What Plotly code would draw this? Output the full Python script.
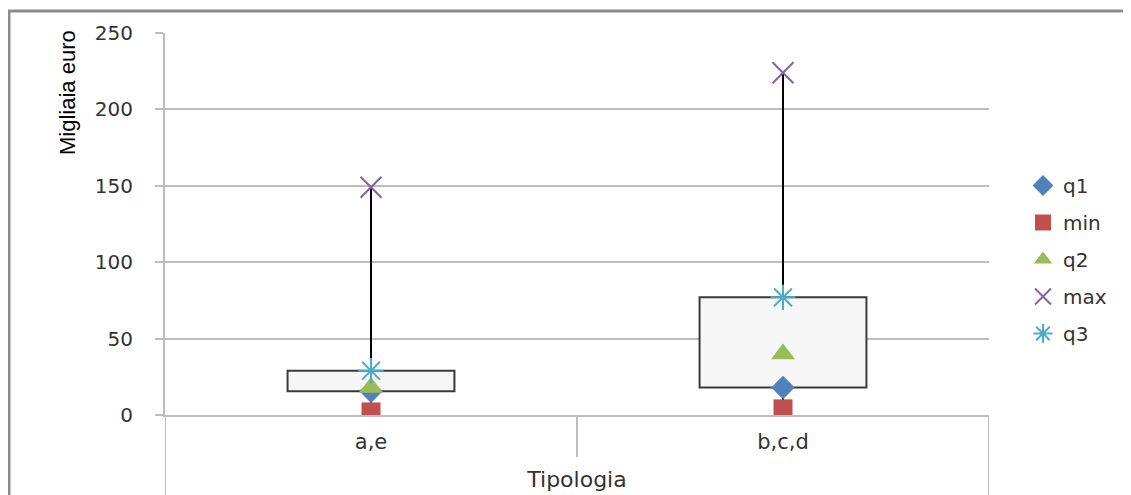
import plotly.graph_objects as go

categories = ["a,e", "b,c,d"]
q_min = [2, 4]
q1 = [15.5, 18]
q2 = [18, 40]
q3 = [29, 77]
q_max = [149, 224]

y_ticks = [0, 50, 100, 150, 200, 250]

# page is rendered with an 8px body margin -> work in page pixels, shift by 8
OFF = 8
W, H = 1131, 495
ML, MT = 165 - OFF, 33 - OFF
PR, PB = 989 - OFF, 415 - OFF  # plot right / bottom in figure pixels
MR, MB = W - PR, H - PB
PW = PR - ML
PH = PB - MT


def px_x(p):
    return (p - OFF - ML) / PW


def px_y(p):
    return (PB - (p - OFF)) / PH


fig = go.Figure()

# Box (q1 -> q3)
fig.add_trace(go.Bar(
    x=categories,
    base=q1,
    y=[b - a for a, b in zip(q1, q3)],
    width=0.405,
    marker=dict(color="#f7f7f7", line=dict(color="#3a3a3a", width=2)),
    showlegend=False,
    hoverinfo="skip",
))

# Whiskers
wx, wy = [], []
for c, mn, a, b, mx in zip(categories, q_min, q1, q3, q_max):
    wx += [c, c, None, c, c, None]
    wy += [mn, a, None, b, mx, None]
fig.add_trace(go.Scatter(
    x=wx, y=wy, mode="lines",
    line=dict(color="black", width=2),
    showlegend=False, hoverinfo="skip",
))

series = [
    ("q1", q1, dict(symbol="diamond", size=18, color="#4F81BD")),
    ("min", q_min, dict(symbol="square", size=19, color="#C0504D")),
    ("q2", q2, dict(symbol="triangle-up", size=21, color="#9BBB59")),
    ("max", q_max, dict(symbol="x-thin-open", size=21, color="#8064A2",
                        line=dict(width=2, color="#8064A2"))),
    ("q3", q3, dict(symbol="asterisk-open", size=21, color="#4BACC6",
                    line=dict(width=2, color="#4BACC6"))),
]
for name, vals, mk in series:
    fig.add_trace(go.Scatter(
        x=categories, y=vals, mode="markers", name=name,
        marker=mk, legendgroup=name,
    ))

grid_col = "#bdbdbd"
shapes = []
shapes.append(dict(type="line", xref="x", yref="paper", x0=0.5, x1=0.5,
                   y0=0, y1=px_y(457), line=dict(color=grid_col, width=2)))
for xv in (-0.5, 1.5):
    shapes.append(dict(type="line", xref="x", yref="paper", x0=xv, x1=xv,
                       y0=0, y1=px_y(505), line=dict(color=grid_col, width=2)))
# outer chart frame
shapes.append(dict(type="line", xref="paper", yref="paper",
                   x0=px_x(9), x1=px_x(9), y0=px_y(505), y1=px_y(10),
                   line=dict(color="#8c8c8c", width=3)))
shapes.append(dict(type="line", xref="paper", yref="paper",
                   x0=px_x(8), x1=px_x(1145), y0=px_y(11), y1=px_y(11),
                   line=dict(color="#8c8c8c", width=3)))

fig.update_layout(
    width=W, height=H,
    margin=dict(l=ML, r=MR, t=MT, b=MB),
    plot_bgcolor="white", paper_bgcolor="white",
    font=dict(family="DejaVu Sans", color="#333333", size=18),
    barmode="overlay",
    shapes=shapes,
    legend=dict(
        x=px_x(1023), y=px_y(166), xanchor="left", yanchor="top",
        font=dict(size=20, family="DejaVu Sans", color="#333333"),
        tracegroupgap=8, traceorder="grouped",
        bgcolor="rgba(0,0,0,0)",
    ),
    annotations=[dict(
        text="Migliaia euro", textangle=-90,
        x=px_x(67), y=px_y(93), xref="paper", yref="paper",
        xanchor="center", yanchor="middle", showarrow=False,
        font=dict(family="Liberation Sans Narrow, Arial Narrow, Liberation Sans",
                  size=22, color="black"),
    )],
)

fig.update_xaxes(
    type="category", categoryorder="array", categoryarray=categories,
    range=[-0.5, 1.5],
    showgrid=False, showline=True, linecolor=grid_col, linewidth=2,
    ticks="", ticklabelstandoff=7,
    tickfont=dict(size=21, family="DejaVu Sans", color="#333333"),
    title=dict(text="Tipologia", standoff=18,
               font=dict(size=22, family="DejaVu Sans", color="#333333")),
)
fig.update_yaxes(
    range=[0, 250], tickvals=y_ticks,
    showgrid=True, gridcolor=grid_col, gridwidth=2,
    showline=True, linecolor=grid_col, linewidth=2,
    ticks="outside", ticklen=8, tickcolor=grid_col, tickwidth=2,
    ticklabelstandoff=18,
    tickfont=dict(size=20, family="DejaVu Sans", color="#333333"),
    zeroline=False,
)

fig.write_html("out.html")
